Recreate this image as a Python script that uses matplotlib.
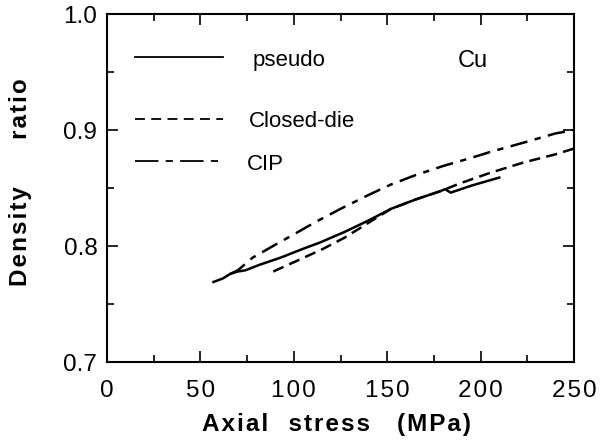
import numpy as np
import matplotlib
matplotlib.use('Agg')
import matplotlib.pyplot as plt

plt.rcParams['font.family'] = ['Liberation Sans', 'DejaVu Sans']

# curves (stress in MPa, density ratio)
pseudo_x = [57, 62, 66, 70, 74, 82, 93, 104, 114, 127, 140, 152, 165, 178, 181, 184, 195, 210]
pseudo_y = [0.769, 0.772, 0.776, 0.778, 0.779, 0.784, 0.790, 0.797, 0.803, 0.812, 0.822, 0.832, 0.840, 0.847, 0.849, 0.846, 0.852, 0.859]

closed_x = [89, 100, 115, 127, 140, 152, 165, 178, 189, 205, 223, 240, 250]
closed_y = [0.778, 0.786, 0.797, 0.807, 0.820, 0.832, 0.840, 0.847, 0.854, 0.863, 0.872, 0.879, 0.884]

cip_x = [66, 70, 78, 90, 100, 112, 125, 140, 152, 165, 180, 195, 205, 225, 240, 250]
cip_y = [0.776, 0.779, 0.790, 0.801, 0.810, 0.821, 0.832, 0.844, 0.853, 0.861, 0.869, 0.876, 0.881, 0.890, 0.897, 0.900]

legend_labels = ['pseudo', 'Closed-die', 'CIP']
legend_line_y = [0.963, 0.9095, 0.873]
legend_text_x = [78, 76, 75]
legend_text_y = [0.9595, 0.907, 0.870]

x_ticks = [0, 50, 100, 150, 200, 250]
y_ticks = [0.7, 0.8, 0.9, 1.0]

curve_styles = ['-', (0, (4.5, 2.5)), (0, (7, 3, 2.5, 3))]
legend_styles = ['-', (0, (5.5, 3.5)), (0, (13, 4, 4, 4))]

HS = '\u200a'  # hair space, used as letter spacing


def spaced(word):
    return HS.join(word)


fig = plt.figure(figsize=(6, 4.43), dpi=100)
ax = fig.add_axes([107 / 600, 1 - 362 / 443, 467 / 600, 348 / 443])

lw = 1.8
ax.plot(pseudo_x, pseudo_y, color='black', lw=lw, ls=curve_styles[0])
ax.plot(closed_x, closed_y, color='black', lw=lw, ls=curve_styles[1])
ax.plot(cip_x, cip_y, color='black', lw=lw, ls=curve_styles[2])

# hand drawn legend
for i, lab in enumerate(legend_labels):
    ax.plot([15, 62], [legend_line_y[i]] * 2, color='black', lw=1.3, ls=legend_styles[i])
    ax.text(legend_text_x[i], legend_text_y[i], lab, fontsize=16, va='center', ha='left')
ax.text(188, 0.9595, 'Cu', fontsize=17, va='center', ha='left')

ax.set_xlim(0, 250)
ax.set_ylim(0.7, 1.0)
ax.set_xticks(x_ticks)
ax.set_xticklabels([spaced(str(v)) for v in x_ticks])
ax.set_xticks(np.arange(0, 251, 25), minor=True)
ax.set_yticks(y_ticks)
ax.set_yticklabels(['%.1f' % v for v in y_ticks])
ax.set_yticks(np.arange(0.7, 1.001, 0.05), minor=True)
ax.tick_params(which='both', direction='in', top=True, right=True, width=1.2)
ax.tick_params(which='major', length=8)
ax.tick_params(which='minor', length=5)
ax.tick_params(axis='x', labelsize=17.5, pad=13)
ax.tick_params(axis='y', labelsize=17.5, pad=7)
for s in ax.spines.values():
    s.set_linewidth(1.5)

xlab = spaced('Axial') + '   ' + spaced('stress') + '    ' + spaced('(MPa)')
ylab = spaced('Density') + '       ' + spaced('ratio')
fig.text(337 / 600, 1 - 425 / 443, xlab, fontsize=17.5, fontweight='bold', ha='center', va='center')
fig.text(21 / 600, 1 - 182 / 443, ylab, fontsize=17.5, fontweight='bold', ha='center', va='center',
         rotation=90)

fig.savefig('out.png', dpi=100)
